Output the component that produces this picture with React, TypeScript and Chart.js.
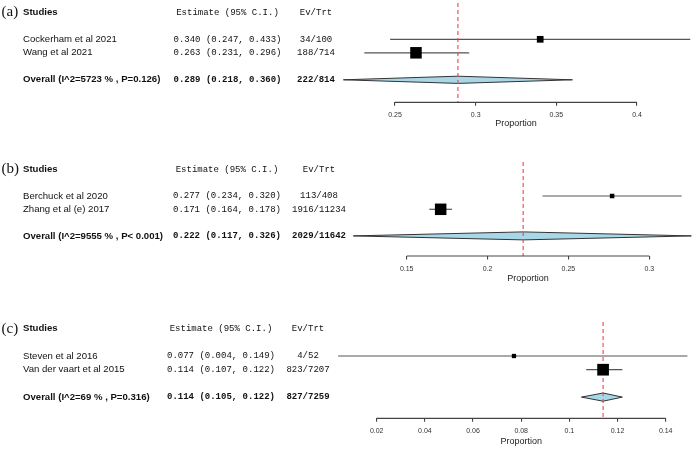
import React, { useEffect, useRef } from "react";
import { Chart, registerables } from "chart.js";

Chart.register(...registerables);

// ---------- Panel (a) data ----------
const studiesA = ["Cockerham et al 2021", "Wang et al 2021"];
const estA = [0.34, 0.263];
const lowA = [0.247, 0.231];
const highA = [0.433, 0.296];
const evA = ["34/100", "188/714"];
const overallLabelA = "Overall (I^2=5723 % , P=0.126)";
const overallA = [0.289, 0.218, 0.36];
const overallEvA = "222/814";
const ticksA = [0.25, 0.3, 0.35, 0.4];
const tickLabelsA = ["0.25", "0.3", "0.35", "0.4"];

// ---------- Panel (b) data ----------
const studiesB = ["Berchuck et al 2020", "Zhang et al (e) 2017"];
const estB = [0.277, 0.171];
const lowB = [0.234, 0.164];
const highB = [0.32, 0.178];
const evB = ["113/408", "1916/11234"];
const overallLabelB = "Overall (I^2=9555 % , P< 0.001)";
const overallB = [0.222, 0.117, 0.326];
const overallEvB = "2029/11642";
const ticksB = [0.15, 0.2, 0.25, 0.3];
const tickLabelsB = ["0.15", "0.2", "0.25", "0.3"];

// ---------- Panel (c) data ----------
const studiesC = ["Steven et al 2016", "Van der vaart et al 2015"];
const estC = [0.077, 0.114];
const lowC = [0.004, 0.107];
const highC = [0.149, 0.122];
const evC = ["4/52", "823/7207"];
const overallLabelC = "Overall (I^2=69 % , P=0.316)";
const overallC = [0.114, 0.105, 0.122];
const overallEvC = "827/7259";
const ticksC = [0.02, 0.04, 0.06, 0.08, 0.1, 0.12, 0.14];
const tickLabelsC = ["0.02", "0.04", "0.06", "0.08", "0.1", "0.12", "0.14"];

const SANS = "'Liberation Sans', Arial, sans-serif";
const MONO = "'Liberation Mono', 'Courier New', monospace";
const SERIF = "'Liberation Serif', 'Times New Roman', serif";
const W = 694;

type Layout = {
  top: number;
  height: number;
  row1: number;
  gap: number;
  axisY: number;
  anchor: [number, number, number, number];
  estX: number;
  evX: number;
  boxSides: number[];
  titleY: number;
  dashTop: number;
  diamondHalf: number;
};

type Panel = {
  tag: string;
  studies: string[];
  est: number[];
  low: number[];
  high: number[];
  ev: string[];
  overallLabel: string;
  overall: number[];
  overallEv: string;
  ticks: number[];
  tickLabels: string[];
  layout: Layout;
};

const panels: Panel[] = [
  {
    tag: "(a)",
    studies: studiesA,
    est: estA,
    low: lowA,
    high: highA,
    ev: evA,
    overallLabel: overallLabelA,
    overall: overallA,
    overallEv: overallEvA,
    ticks: ticksA,
    tickLabels: tickLabelsA,
    layout: {
      top: 0,
      height: 140,
      row1: 39.3,
      gap: 13.5,
      axisY: 102.3,
      anchor: [0.25, 395, 0.4, 637],
      estX: 227.5,
      evX: 316,
      boxSides: [6.7, 11.5],
      titleY: 124,
      dashTop: 3,
      diamondHalf: 3.6,
    },
  },
  {
    tag: "(b)",
    studies: studiesB,
    est: estB,
    low: lowB,
    high: highB,
    ev: evB,
    overallLabel: overallLabelB,
    overall: overallB,
    overallEv: overallEvB,
    ticks: ticksB,
    tickLabels: tickLabelsB,
    layout: {
      top: 140,
      height: 147,
      row1: 196,
      gap: 13.3,
      axisY: 256,
      anchor: [0.15, 406.7, 0.3, 649.3],
      estX: 227,
      evX: 319,
      boxSides: [4.5, 11.5],
      titleY: 279,
      dashTop: 162,
      diamondHalf: 4,
    },
  },
  {
    tag: "(c)",
    studies: studiesC,
    est: estC,
    low: lowC,
    high: highC,
    ev: evC,
    overallLabel: overallLabelC,
    overall: overallC,
    overallEv: overallEvC,
    ticks: ticksC,
    tickLabels: tickLabelsC,
    layout: {
      top: 287,
      height: 162,
      row1: 356,
      gap: 13.7,
      axisY: 418.3,
      anchor: [0.02, 376.7, 0.14, 665.7],
      estX: 221,
      evX: 308,
      boxSides: [4.3, 11.7],
      titleY: 441.7,
      dashTop: 322,
      diamondHalf: 4.1,
    },
  },
];

const fmt = (v: number) => v.toFixed(3);

function ForestPanel({ p }: { p: Panel }) {
  const ref = useRef<HTMLCanvasElement | null>(null);

  useEffect(() => {
    if (!ref.current) return;
    const L = p.layout;
    const ppu = (L.anchor[3] - L.anchor[1]) / (L.anchor[2] - L.anchor[0]);
    const xMin = L.anchor[0] - L.anchor[1] / ppu;
    const xMax = L.anchor[0] + (W - L.anchor[1]) / ppu;
    const yMin = 1 - (L.row1 - L.top) / L.gap;
    const yMax = 1 + (L.axisY - L.row1) / L.gap;
    const axisH = L.top + L.height - L.axisY;
    const overallRow = p.studies.length + 2;
    const headerRow = -1;
    const dashTopVal = 1 - (L.row1 - L.dashTop) / L.gap;
    const dh = L.diamondHalf / L.gap;

    const datasets: any[] = [];
    // squares (weights)
    datasets.push({
      data: p.est.map((e, i) => ({ x: e, y: i + 1 })),
      pointStyle: "rect",
      pointRadius: L.boxSides.map((s) => s / Math.SQRT2),
      pointBackgroundColor: "#000",
      pointBorderColor: "#000",
      pointBorderWidth: 0,
      showLine: false,
      clip: false,
      order: 0,
    });
    // reference dashed line at overall estimate
    datasets.push({
      data: [
        { x: p.overall[0], y: dashTopVal },
        { x: p.overall[0], y: yMax },
      ],
      showLine: true,
      borderColor: "#f0434b",
      borderWidth: 1.1,
      borderDash: [4, 3],
      pointRadius: 0,
      clip: false,
      order: 1,
    });
    // summary diamond
    datasets.push({
      data: [
        { x: p.overall[1], y: overallRow },
        { x: p.overall[0], y: overallRow - dh },
        { x: p.overall[2], y: overallRow },
        { x: p.overall[0], y: overallRow + dh },
        { x: p.overall[1], y: overallRow },
      ],
      showLine: true,
      fill: "shape",
      backgroundColor: "#a8d8e8",
      borderColor: "#333",
      borderWidth: 1,
      pointRadius: 0,
      tension: 0,
      clip: false,
      order: 2,
    });
    // confidence interval lines
    p.est.forEach((_, i) => {
      datasets.push({
        data: [
          { x: p.low[i], y: i + 1 },
          { x: p.high[i], y: i + 1 },
        ],
        showLine: true,
        borderColor: "#555",
        borderWidth: 1.2,
        pointRadius: 0,
        clip: false,
        order: 3,
      });
    });

    const textPlugin = {
      id: "forestText",
      afterDraw(chart: any) {
        const ctx = chart.ctx as CanvasRenderingContext2D;
        const ys = chart.scales.y;
        const xs = chart.scales.x;
        const x0 = xs.getPixelForValue(p.ticks[0]);
        const x1 = xs.getPixelForValue(p.ticks[p.ticks.length - 1]);
        // axis line between first and last ticks
        ctx.save();
        ctx.strokeStyle = "#444";
        ctx.lineWidth = 1.2;
        ctx.beginPath();
        const by = chart.chartArea.bottom;
        ctx.moveTo(x0, by);
        ctx.lineTo(x1, by);
        ctx.stroke();
        ctx.restore();

        ctx.save();
        ctx.textBaseline = "middle";
        ctx.fillStyle = "#111";
        // axis title
        ctx.font = `9px ${SANS}`;
        ctx.textAlign = "center";
        ctx.fillStyle = "#222";
        ctx.fillText("Proportion", (x0 + x1) / 2, L.titleY - L.top);
        ctx.fillStyle = "#111";

        const hy = ys.getPixelForValue(headerRow);
        // tag
        ctx.font = `15px ${SERIF}`;
        ctx.textAlign = "left";
        ctx.fillText(p.tag, 1.5, hy);
        // header
        ctx.font = `bold 9.6px ${SANS}`;
        ctx.fillText("Studies", 23, hy);
        ctx.font = `9px ${MONO}`;
        ctx.textAlign = "center";
        ctx.fillText("Estimate (95% C.I.)", L.estX, hy);
        ctx.fillText("Ev/Trt", L.evX, hy);
        // study rows
        p.studies.forEach((s, i) => {
          const y = ys.getPixelForValue(i + 1);
          ctx.textAlign = "left";
          ctx.font = `9.6px ${SANS}`;
          ctx.fillText(s, 23, y);
          ctx.font = `9px ${MONO}`;
          ctx.textAlign = "center";
          ctx.fillText(`${fmt(p.est[i])} (${fmt(p.low[i])}, ${fmt(p.high[i])})`, L.estX, y);
          ctx.fillText(p.ev[i], L.evX, y);
        });
        // overall row
        const oy = ys.getPixelForValue(overallRow);
        ctx.textAlign = "left";
        ctx.font = `bold 9.6px ${SANS}`;
        ctx.fillText(p.overallLabel, 23, oy);
        ctx.font = `bold 9px ${MONO}`;
        ctx.textAlign = "center";
        ctx.fillText(
          `${fmt(p.overall[0])} (${fmt(p.overall[1])}, ${fmt(p.overall[2])})`,
          L.estX,
          oy
        );
        ctx.fillText(p.overallEv, L.evX, oy);
        ctx.restore();
      },
    };

    const chart = new Chart(ref.current, {
      type: "scatter",
      data: { datasets },
      options: {
        animation: false,
        responsive: false,
        maintainAspectRatio: false,
        layout: { padding: 0, autoPadding: false },
        plugins: {
          legend: { display: false },
          tooltip: { enabled: false },
        },
        scales: {
          x: {
            type: "linear",
            position: "bottom",
            min: xMin,
            max: xMax,
            afterBuildTicks: (s: any) => {
              s.ticks = p.ticks.map((v) => ({ value: v }));
            },
            afterFit: (s: any) => {
              s.height = axisH;
              s.paddingLeft = 0;
              s.paddingRight = 0;
            },
            ticks: {
              autoSkip: false,
              maxRotation: 0,
              padding: 5.5,
              color: "#333",
              font: { family: SANS, size: 7 },
              callback: (_v: any, i: number) => p.tickLabels[i],
            },
            grid: {
              drawOnChartArea: false,
              drawTicks: true,
              tickLength: 3.5,
              color: "#444",
              lineWidth: 1.1,
            },
            border: { display: false },
            title: { display: false },
          },
          y: {
            type: "linear",
            display: false,
            reverse: true,
            min: yMin,
            max: yMax,
          },
        },
      } as any,
      plugins: [textPlugin],
    });
    return () => chart.destroy();
  }, [p]);

  const L = p.layout;
  return (
    <div style={{ position: "absolute", left: 0, top: L.top, width: W, height: L.height }}>
      <canvas
        ref={ref}
        width={W}
        height={L.height}
        style={{ display: "block", width: W, height: L.height }}
      />
    </div>
  );
}

export default function App() {
  return (
    <div
      style={{
        position: "absolute",
        left: 0,
        top: 0,
        width: W,
        height: 449,
        background: "#fff",
        overflow: "hidden",
      }}
    >
      {panels.map((p) => (
        <ForestPanel key={p.tag} p={p} />
      ))}
    </div>
  );
}
